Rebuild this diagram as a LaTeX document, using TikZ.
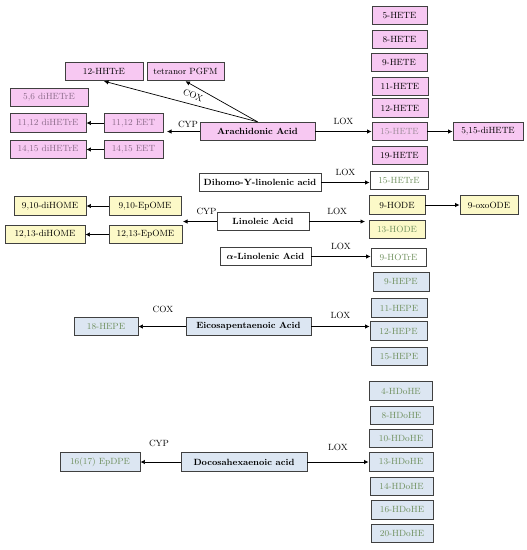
\documentclass[tikz,border=0pt]{standalone}
\usetikzlibrary{arrows.meta}
\definecolor{pinkfill}{HTML}{F7C8F2}
\definecolor{yelfill}{HTML}{FCF9C8}
\definecolor{bluefill}{HTML}{DCE6F2}
\definecolor{pinktext}{HTML}{8A6A88}
\definecolor{greentext}{HTML}{6E8F5C}
\definecolor{graytext}{HTML}{9A8A96}

\begin{document}
\begin{tikzpicture}[
  x=1pt,y=-1pt,
  >=Latex,
  met/.style={draw=black!75,line width=0.9pt,minimum height=18.5pt,inner sep=1pt,
    font=\fontsize{9}{10}\selectfont},
  acid/.style={met,font=\fontsize{9}{10}\selectfont\bfseries\boldmath},
  pk/.style={fill=pinkfill},
  ye/.style={fill=yelfill},
  bl/.style={fill=bluefill},
  conv/.style={-{Latex[length=4.5pt,width=4.5pt]},line width=0.7pt},
  enz/.style={font=\fontsize{9}{10}\selectfont}
]
  \useasboundingbox (0,0) rectangle (527,550);

  % arachidonic acid
  \node[acid,pk,minimum width=115pt] (aa) at (257.5,131.5) {Arachidonic Acid};
  \node[met,pk,minimum width=78pt] (hhtre) at (104,71.5) {12-HHTrE};
  \node[met,pk,minimum width=77pt] (pgfm) at (185.5,71.5) {tetranor PGFM};
  \node[met,pk,text=pinktext,minimum width=78pt] (dihetre56) at (49,97.5) {5,6 diHETrE};
  \node[met,pk,text=pinktext,minimum width=76pt] (dihetre1112) at (48,123) {11,12 diHETrE};
  \node[met,pk,text=pinktext,minimum width=59pt] (eet1112) at (133.5,123) {11,12 EET};
  \node[met,pk,text=pinktext,minimum width=76pt] (dihetre1415) at (48,149.5) {14,15 diHETrE};
  \node[met,pk,text=pinktext,minimum width=59pt] (eet1415) at (133.5,149.5) {14,15 EET};
  \node[met,pk,minimum width=55pt] (hete5) at (399.5,15.5) {5-HETE};
  \node[met,pk,minimum width=55pt] (hete8) at (399.5,39.5) {8-HETE};
  \node[met,pk,minimum width=56pt] (hete9) at (399,62.5) {9-HETE};
  \node[met,pk,minimum width=56pt] (hete11) at (400,86.5) {11-HETE};
  \node[met,pk,minimum width=56pt] (hete12) at (400,108) {12-HETE};
  \node[met,pk,text=graytext,minimum width=55pt] (hete15) at (399.5,131.5) {15-HETE};
  \node[met,pk,minimum width=55pt] (hete19) at (399.5,155.5) {19-HETE};
  \node[met,pk,minimum width=70pt] (dihete) at (488,131.5) {5,15-diHETE};

  \draw[conv] (aa.north) -- (hhtre.south);
  \draw[conv] (aa.north) -- (pgfm.south);
  \node[enz,rotate=-22.6,inner sep=0pt] (coxaa) at (193,95.5) {COX};
  \coordinate (cypaa) at (167,131.5);
  \draw[conv] (aa) -- (cypaa);
  \node[enz] (cypaalab) at (188,124) {CYP};
  \draw[conv] (eet1112) -- (dihetre1112);
  \draw[conv] (eet1415) -- (dihetre1415);
  \draw[conv] (aa) -- node[enz,above=3pt] {LOX} (hete15);
  \draw[conv] (hete15) -- (dihete);

  % dihomo-gamma-linolenic acid
  \node[acid,minimum width=122pt] (dgla) at (260,182.5) {Dihomo-Y-linolenic acid};
  \node[met,text=greentext,minimum width=58pt] (hetre15) at (399,180.5) {15-HETrE};
  \draw[conv] (dgla.east) -- node[enz,above=3pt] {LOX} (dgla.east -| hetre15.west);

  % linoleic acid
  \node[acid,minimum width=92pt] (la) at (263,221.5) {Linoleic Acid};
  \node[met,ye,minimum width=72pt] (dihome910) at (50,206) {9,10-diHOME};
  \node[met,ye,minimum width=72pt] (epome910) at (145,206) {9,10-EpOME};
  \node[met,ye,minimum width=80pt] (dihome1213) at (45,234.5) {12,13-diHOME};
  \node[met,ye,minimum width=73pt] (epome1213) at (145.5,234.5) {12,13-EpOME};
  \node[met,ye,minimum width=56pt] (hode9) at (397,205) {9-HODE};
  \node[met,ye,text=greentext,minimum width=56pt] (hode13) at (397,229.5) {13-HODE};
  \node[met,ye,minimum width=58pt] (oxoode) at (489,205) {9-oxoODE};
  \coordinate (cypla) at (183,221.5);
  \coordinate (loxla) at (365,221.5);
  \draw[conv] (la) -- node[enz,above=3pt,pos=0.3] {CYP} (cypla);
  \draw[conv] (la) -- node[enz,above=3pt] {LOX} (loxla);
  \draw[conv] (epome910) -- (dihome910);
  \draw[conv] (epome1213) -- (dihome1213);
  \draw[conv] (hode9) -- (oxoode);

  % alpha-linolenic acid
  \node[acid,minimum width=91pt] (ala) at (265.5,256.5) {$\alpha$-Linolenic Acid};
  \node[met,text=greentext,minimum width=55pt] (hotre9) at (398.5,257.5) {9-HOTrE};
  \draw[conv] (ala.east) -- node[enz,above=3pt] {LOX} (ala.east -| hotre9.west);

  % eicosapentaenoic acid
  \node[acid,bl,minimum width=125pt] (epa) at (248.5,326.5) {Eicosapentaenoic Acid};
  \node[met,bl,text=greentext,minimum width=64pt] (hepe18) at (106,326.5) {18-HEPE};
  \node[met,bl,text=greentext,minimum width=56pt] (hepe9) at (401,282) {9-HEPE};
  \node[met,bl,text=greentext,minimum width=56pt] (hepe11) at (399,308) {11-HEPE};
  \node[met,bl,text=greentext,minimum width=57pt] (hepe12) at (398.5,331) {12-HEPE};
  \node[met,bl,text=greentext,minimum width=56pt] (hepe15) at (399,356.5) {15-HEPE};
  \draw[conv] (epa) -- (hepe18);
  \node[enz] (coxepa) at (163,309) {COX};
  \draw[conv] (epa.east) -- node[enz,above=4pt] {LOX} (epa.east -| hepe12.west);

  % docosahexaenoic acid
  \node[acid,bl,minimum width=126pt] (dha) at (244,462) {Docosahexaenoic acid};
  \node[met,bl,text=greentext,minimum width=80pt] (epdpe) at (100,462) {16(17) EpDPE};
  \node[met,bl,text=greentext,minimum width=63pt] (hdohe4) at (401,391) {4-HDoHE};
  \node[met,bl,text=greentext,minimum width=63pt] (hdohe8) at (401.5,415.5) {8-HDoHE};
  \node[met,bl,text=greentext,minimum width=63pt] (hdohe10) at (401,438.5) {10-HDoHE};
  \node[met,bl,text=greentext,minimum width=64pt] (hdohe13) at (401,462) {13-HDoHE};
  \node[met,bl,text=greentext,minimum width=63pt] (hdohe14) at (401.5,486.5) {14-HDoHE};
  \node[met,bl,text=greentext,minimum width=62pt] (hdohe16) at (402,510) {16-HDoHE};
  \node[met,bl,text=greentext,minimum width=62pt] (hdohe20) at (402,533.5) {20-HDoHE};
  \draw[conv] (dha) -- (epdpe);
  \node[enz] (cypdha) at (159,443) {CYP};
  \draw[conv] (dha) -- node[enz,above=8pt] {LOX} (hdohe13);
\end{tikzpicture}
\end{document}
